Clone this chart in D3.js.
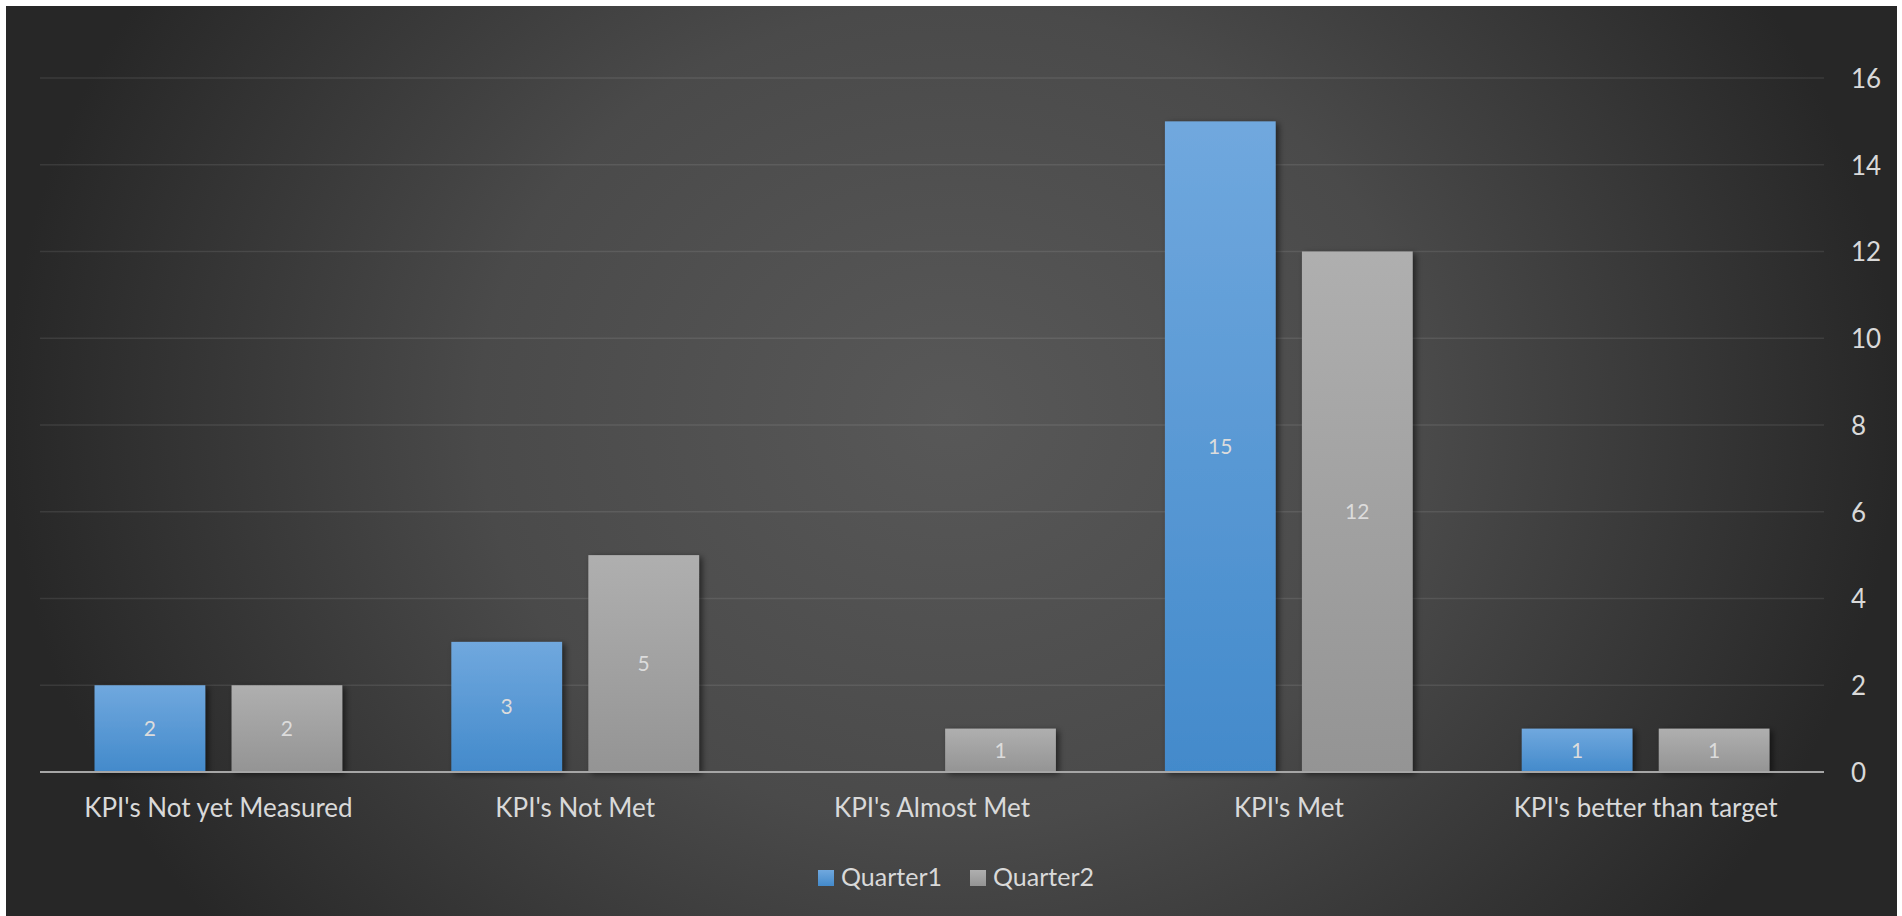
<!DOCTYPE html>
<html>
<head>
<meta charset="utf-8">
<script src="https://cdn.jsdelivr.net/npm/d3@7"></script>
<style>
  html, body { margin: 0; padding: 0; background: #ffffff; }
  svg { display: block; }
  text { font-family: Lato, "Open Sans", sans-serif; }
</style>
</head>
<body>
<svg id="chart" width="1902" height="916"></svg>
<script>
// KPI status counts per quarter
const categories = ["KPI's Not yet Measured", "KPI's Not Met", "KPI's Almost Met", "KPI's Met", "KPI's better than target"];
const seriesNames = ["Quarter1", "Quarter2"];
const quarter1 = [2, 3, 0, 15, 1];
const quarter2 = [2, 5, 1, 12, 1];
const yTicks = [0, 2, 4, 6, 8, 10, 12, 14, 16];

const seriesValues = { Quarter1: quarter1, Quarter2: quarter2 };

const panel = { x: 6, y: 6, w: 1891, h: 910 };
const plot = { left: 40, right: 1824, top: 78, bottom: 772 };

const svg = d3.select("#chart");
const defs = svg.append("defs");

// dark radial background
const bg = defs.append("radialGradient")
  .attr("id", "bgGrad")
  .attr("cx", 0.5).attr("cy", 0.45).attr("r", 0.5)
  .attr("gradientTransform", "translate(0.5,0.45) scale(1,1.8) translate(-0.5,-0.45)");
bg.append("stop").attr("offset", 0).attr("stop-color", "#585858");
bg.append("stop").attr("offset", 0.5).attr("stop-color", "#4a4a4a");
bg.append("stop").attr("offset", 1).attr("stop-color", "#272727");

// per-series bar gradients
const fills = {
  Quarter1: ["#70a8de", "#438acb"],
  Quarter2: ["#afafaf", "#949494"]
};
seriesNames.forEach(s => {
  const g = defs.append("linearGradient")
    .attr("id", "grad-" + s)
    .attr("x1", 0).attr("y1", 0).attr("x2", 0).attr("y2", 1);
  g.append("stop").attr("offset", 0).attr("stop-color", fills[s][0]);
  g.append("stop").attr("offset", 1).attr("stop-color", fills[s][1]);
});

const shadow = defs.append("filter")
  .attr("id", "barShadow")
  .attr("x", "-20%").attr("y", "-20%").attr("width", "140%").attr("height", "140%");
shadow.append("feDropShadow")
  .attr("dx", 3).attr("dy", 2).attr("stdDeviation", 3)
  .attr("flood-color", "#000").attr("flood-opacity", 0.55);

svg.append("rect")
  .attr("x", panel.x).attr("y", panel.y)
  .attr("width", panel.w).attr("height", panel.h)
  .attr("fill", "url(#bgGrad)");

// scales
const x0 = d3.scaleBand()
  .domain(categories)
  .range([plot.left, plot.right])
  .paddingInner(0).paddingOuter(0);

const x1 = d3.scaleBand()
  .domain(seriesNames)
  .range([0, x0.bandwidth()])
  .paddingInner(0.192)
  .paddingOuter(0.398);

const y = d3.scaleLinear()
  .domain([0, 16])
  .range([plot.bottom, plot.top]);

// gridlines
svg.append("g")
  .selectAll("line")
  .data(yTicks.filter(t => t > 0))
  .join("line")
  .attr("x1", plot.left).attr("x2", plot.right)
  .attr("y1", d => y(d)).attr("y2", d => y(d))
  .attr("stroke", "#ffffff")
  .attr("stroke-opacity", 0.09)
  .attr("stroke-width", 1.5);

// right-side value axis
const yAxis = d3.axisRight(y).tickValues(yTicks).tickSize(0).tickPadding(0);
const yAxisG = svg.append("g")
  .attr("transform", `translate(1851,0)`)
  .call(yAxis);
yAxisG.select(".domain").remove();
yAxisG.selectAll("text")
  .attr("x", 0)
  .attr("dy", "0.36em")
  .attr("text-anchor", "start")
  .attr("fill", "#d9d9d9")
  .style("font-size", "26px")
  .style("font-family", "Lato, 'Open Sans', sans-serif");

// bars
const groups = svg.append("g")
  .selectAll("g")
  .data(categories)
  .join("g")
  .attr("transform", d => `translate(${x0(d)},0)`);

const barData = (c, i) => seriesNames.map(s => ({ s, v: seriesValues[s][i] }));

groups.selectAll("rect")
  .data((c, i) => barData(c, i).filter(d => d.v > 0))
  .join("rect")
  .attr("x", d => x1(d.s))
  .attr("y", d => y(d.v))
  .attr("width", x1.bandwidth())
  .attr("height", d => y(0) - y(d.v))
  .attr("fill", d => `url(#grad-${d.s})`)
  .attr("filter", "url(#barShadow)");

groups.selectAll("text.val")
  .data((c, i) => barData(c, i).filter(d => d.v > 0))
  .join("text")
  .attr("class", "val")
  .attr("x", d => x1(d.s) + x1.bandwidth() / 2)
  .attr("y", d => (y(d.v) + y(0)) / 2)
  .attr("dy", "0.36em")
  .attr("text-anchor", "middle")
  .attr("fill", "#dcdcdc")
  .style("font-size", "21px")
  .text(d => d.v);

// category axis line
svg.append("line")
  .attr("x1", plot.left).attr("x2", plot.right)
  .attr("y1", y(0)).attr("y2", y(0))
  .attr("stroke", "#a6a6a6")
  .attr("stroke-width", 2);

// category labels
const xAxis = d3.axisBottom(x0).tickSize(0).tickPadding(0);
const xAxisG = svg.append("g")
  .attr("transform", `translate(0,817)`)
  .call(xAxis);
xAxisG.select(".domain").remove();
xAxisG.selectAll("text")
  .attr("y", 0).attr("dy", 0)
  .attr("fill", "#d9d9d9")
  .style("font-size", "26px")
  .style("font-family", "Lato, 'Open Sans', sans-serif");

// legend
const legend = svg.append("g");
const items = legend.selectAll("g")
  .data(seriesNames)
  .join("g");
items.append("rect")
  .attr("width", 16).attr("height", 16)
  .attr("y", 870)
  .attr("fill", d => `url(#grad-${d})`);
items.append("text")
  .attr("x", 23).attr("y", 886)
  .attr("fill", "#d9d9d9")
  .style("font-size", "25px")
  .text(d => d);

let cursor = 0;
const gap = 28;
items.each(function () {
  const g = d3.select(this);
  g.attr("transform", `translate(${cursor},0)`);
  cursor += this.getBBox().width + gap;
});
const legendWidth = cursor - gap;
legend.attr("transform", `translate(${956 - legendWidth / 2},0)`);
</script>
</body>
</html>
